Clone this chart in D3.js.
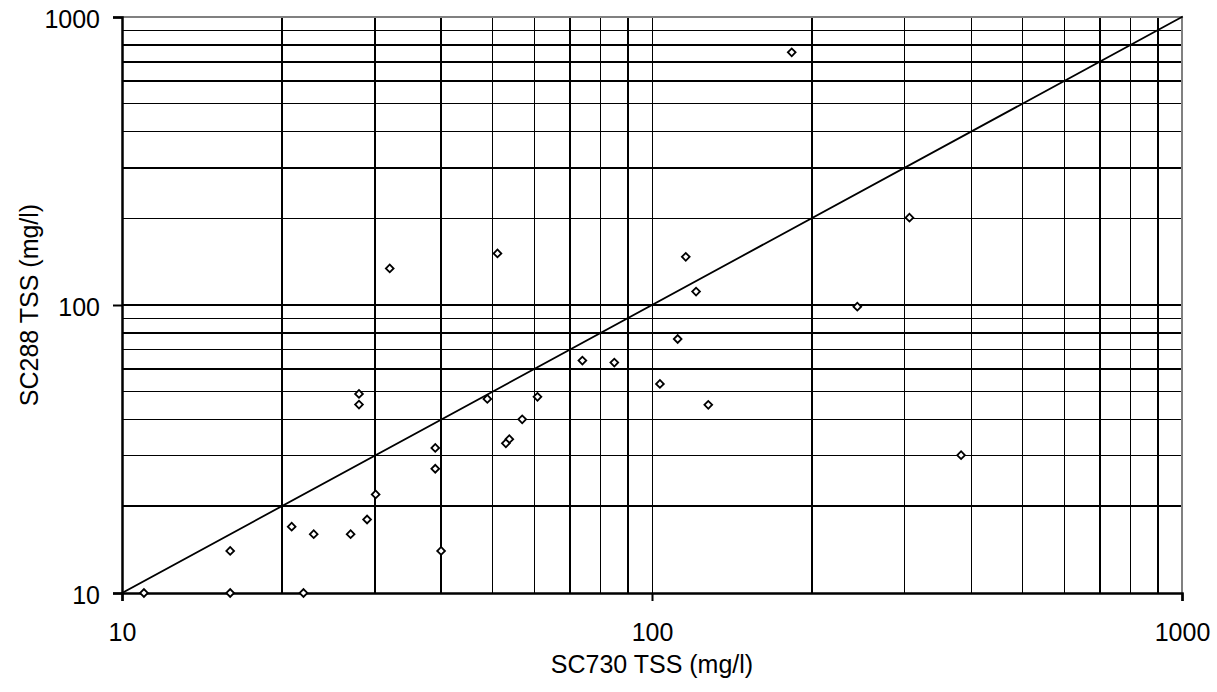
<!DOCTYPE html>
<html>
<head>
<meta charset="utf-8">
<script src="https://cdn.jsdelivr.net/npm/d3@7"></script>
<style>
  body { margin: 0; background: #fff; }
  text { font-family: "Liberation Sans", Arial, sans-serif; fill: #000; }
</style>
</head>
<body>
<svg id="chart" width="1217" height="692"></svg>
<script>
// SC730 vs SC288 total suspended solids
var sc730 = [11, 16, 22, 16, 20.9, 23, 27, 29, 30.1, 39, 39, 40, 28, 28,
             32, 51.1, 48.9, 60.8, 56.9, 53.8, 53, 73.9, 84.9, 103.5, 111.8,
             115.8, 121.1, 127.7, 244, 306, 383, 183.5];
var sc288 = [10, 10, 10, 14, 17, 16, 16, 18, 22, 31.9, 27, 14, 45.1, 49.1,
             134, 151, 47.2, 48, 40.1, 34.2, 33.1, 64.1, 63.1, 53.2, 76.2,
             147, 111.3, 45, 98.7, 201, 30.1, 754];
var axisTicks = [10, 100, 1000];
var lineEnds = [10, 1000];  // 1:1 line

// gridlines that came out heavier in the original export
var heavyX = [20, 30, 40, 70, 90, 200, 700, 900];
var heavyY = [20, 60, 80, 100, 300, 600, 700, 800];

var m = { left: 122, top: 17, right: 1182, bottom: 593 };
var fontSize = "25px";

var svg = d3.select("#chart");

var x = d3.scaleLog().domain([10, 1000]).range([m.left, m.right]);
var y = d3.scaleLog().domain([10, 1000]).range([m.bottom, m.top]);

var grid = svg.append("g").attr("shape-rendering", "crispEdges");

// vertical gridlines
grid.selectAll("line.gx")
    .data(x.ticks().filter(function(d) { return d > 10 && d < 1000; }))
    .enter().append("line")
    .attr("class", "gx")
    .attr("x1", function(d) { return x(d); })
    .attr("x2", function(d) { return x(d); })
    .attr("y1", m.top)
    .attr("y2", m.bottom)
    .attr("stroke", "#000")
    .attr("stroke-width", function(d) { return heavyX.indexOf(d) >= 0 ? 2 : 1; });

// horizontal gridlines
grid.selectAll("line.gy")
    .data(y.ticks().filter(function(d) { return d > 10 && d < 1000; }))
    .enter().append("line")
    .attr("class", "gy")
    .attr("y1", function(d) { return y(d); })
    .attr("y2", function(d) { return y(d); })
    .attr("x1", m.left)
    .attr("x2", m.right)
    .attr("stroke", "#000")
    .attr("stroke-width", function(d) { return heavyY.indexOf(d) >= 0 ? 2 : 1; });

// plot area border (top and right are grey)
grid.append("line")
    .attr("x1", m.left).attr("x2", m.right)
    .attr("y1", m.top).attr("y2", m.top)
    .attr("stroke", "#808080").attr("stroke-width", 2);
grid.append("line")
    .attr("x1", m.right).attr("x2", m.right)
    .attr("y1", m.top).attr("y2", m.bottom)
    .attr("stroke", "#808080").attr("stroke-width", 2);

// 1:1 line
svg.append("path")
    .datum(lineEnds)
    .attr("d", d3.line().x(function(d) { return x(d); }).y(function(d) { return y(d); }))
    .attr("fill", "none")
    .attr("stroke", "#000")
    .attr("stroke-width", 1.8)
    .attr("stroke-linecap", "square");

// axes
var xAxis = svg.append("g")
    .attr("transform", "translate(0," + m.bottom + ")")
    .call(d3.axisBottom(x).tickValues(axisTicks).tickSize(8).tickPadding(22)
        .tickFormat(d3.format("d")));
var yAxis = svg.append("g")
    .attr("transform", "translate(" + m.left + ",0)")
    .call(d3.axisLeft(y).tickValues(axisTicks).tickSize(9).tickPadding(13)
        .tickFormat(d3.format("d")));

[xAxis, yAxis].forEach(function(a) {
    a.select(".domain").attr("stroke", "#000").attr("stroke-width", 2.5);
    a.selectAll(".tick line").attr("stroke", "#000").attr("stroke-width", 2);
    a.selectAll(".tick text")
        .style("font-family", "'Liberation Sans', Arial, sans-serif")
        .style("font-size", fontSize);
});
yAxis.selectAll(".tick text").attr("dy", "0.42em");

// points: hollow diamonds
var pts = sc730.map(function(v, i) { return [v, sc288[i]]; });
svg.append("g").selectAll("path")
    .data(pts)
    .enter().append("path")
    .attr("d", d3.symbol().type(d3.symbolSquare).size(30))
    .attr("transform", function(d) {
        return "translate(" + x(d[0]) + "," + y(d[1]) + ") rotate(45)";
    })
    .attr("fill", "#fff")
    .attr("stroke", "#000")
    .attr("stroke-width", 1.8);

// axis titles
svg.append("text")
    .attr("x", (m.left + m.right) / 2)
    .attr("y", 673)
    .attr("text-anchor", "middle")
    .style("font-size", fontSize)
    .text("SC730 TSS (mg/l)");

svg.append("text")
    .attr("transform", "translate(38," + ((m.top + m.bottom) / 2) + ") rotate(-90)")
    .attr("text-anchor", "middle")
    .style("font-size", fontSize)
    .text("SC288 TSS (mg/l)");
</script>
</body>
</html>
